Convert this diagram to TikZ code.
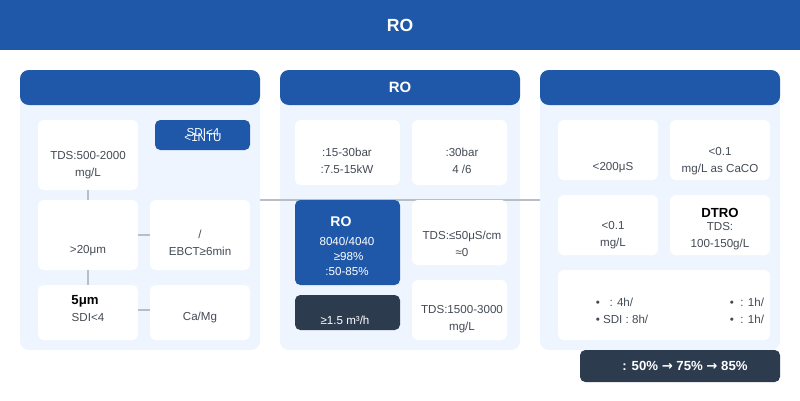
\documentclass[tikz,border=0pt]{standalone}
\usepackage{fontspec}
\setmainfont{Liberation Sans}
\newfontfamily\arrowfont{DejaVu Sans}
\usepackage{tikz}
\definecolor{roblue}{HTML}{1F58A8}
\definecolor{panelbg}{HTML}{EEF5FE}
\definecolor{darkbox}{HTML}{2C3B4E}
\definecolor{txtgray}{HTML}{444B55}
\definecolor{linegray}{HTML}{B8BEC6}
\newcommand{\rarr}{{\arrowfont →}}

\begin{document}
\begin{tikzpicture}[x=0.02cm,y=-0.02cm]
\tikzset{
  panel/.style={fill=panelbg,draw=none,rounded corners=5pt},
  head/.style={fill=roblue,draw=none,rounded corners=5pt},
  card/.style={fill=white,draw=none,rounded corners=3pt},
  bluecard/.style={fill=roblue,draw=none,rounded corners=3pt},
  darkcard/.style={fill=darkbox,draw=none,rounded corners=3pt},
  txt/.style={text=txtgray,align=center,font=\fontsize{6.6}{9.6}\selectfont,inner sep=0pt},
  wtxt/.style={text=white,align=center,font=\fontsize{6.6}{9.6}\selectfont,inner sep=0pt},
  link/.style={draw=linegray,line width=0.6pt}
}
\useasboundingbox (0,0) rectangle (800,400);
% title
\fill[roblue] (0,0) rectangle (800,50);
\node[wtxt,font=\fontsize{10}{12}\selectfont\bfseries] (title) at (400,25) {RO};
% panels
\foreach \x in {20,280,540}{
  \path[panel] (\x,70) rectangle ++(240,280);
  \path[head] (\x,70) rectangle ++(240,35);
}
\node[wtxt,font=\fontsize{8.5}{10}\selectfont\bfseries] (midhead) at (400,87) {RO};
% stage links
\coordinate (la) at (260,200);
\coordinate (lb) at (540,200);
\draw[link] (la) -- (lb);
% left panel
\path[card] (38,120) rectangle (138,190);
\path[bluecard] (155,120) rectangle (250,150);
\path[card] (38,200) rectangle (138,270);
\path[card] (150,200) rectangle (250,270);
\path[card] (38,285) rectangle (138,340);
\path[card] (150,285) rectangle (250,340);
\node[txt] (tds) at (88,165) {TDS:500-2000\\mg/L};
\node[wtxt] (sdia) at (203,133) {SDI<4};
\node[wtxt] (ntu) at (203,138) {<1NTU};
\node[txt] (sand) at (88,251) {>20μm};
\node[txt] (ebct) at (200,243) {/\\EBCT≥6min};
\node[txt,font=\fontsize{7.5}{10}\selectfont\bfseries,text=black] (fine) at (85,301) {5μm};
\node[txt] (sdib) at (88,317) {SDI<4};
\node[txt] (soft) at (200,317) {Ca/Mg};
\draw[link] (88,190) -- (88,200);
\draw[link] (88,270) -- (88,285);
\draw[link] (138,235) -- (150,235);
\draw[link] (138,310) -- (150,310);
% middle panel
\path[card] (295,120) rectangle (400,185);
\path[card] (412,120) rectangle (507,185);
\path[bluecard] (295,200) rectangle (400,285);
\path[card] (412,200) rectangle (507,265);
\path[darkcard] (295,295) rectangle (400,330);
\path[card] (412,280) rectangle (507,340);
\node[txt] (pump) at (347,161) {:15-30bar\\:7.5-15kW};
\node[txt] (vessel) at (462,161) {:30bar\\4 /6};
\node[wtxt,font=\fontsize{8}{10}\selectfont\bfseries] (rohead) at (341,222) {RO};
\node[wtxt,font=\fontsize{6.6}{8.6}\selectfont] (memb) at (347,256) {8040/4040\\ \ ≥98\%\\ :50-85\%};
\node[wtxt] (flow) at (345,320) {≥1.5 m³/h};
\node[txt] (perm) at (462,244) {TDS:≤50μS/cm\\≈0};
\node[txt] (conc) at (462,319) {TDS:1500-3000\\mg/L};
% right panel
\path[card] (558,120) rectangle (658,180);
\path[card] (670,120) rectangle (770,180);
\path[card] (558,195) rectangle (658,255);
\path[card] (670,195) rectangle (770,255);
\path[card] (558,270) rectangle (770,340);
\path[darkcard] (580,350) rectangle (780,382);
\node[txt] (cond) at (613,168) {<200μS};
\node[txt] (hard) at (720,161) {<0.1\\mg/L as CaCO};
\node[txt] (iron) at (613,235) {<0.1\\mg/L};
\node[txt,font=\fontsize{7.5}{10}\selectfont\bfseries,text=black] (dtro) at (720,213) {DTRO};
\node[txt] (dtds) at (720,236) {TDS:\\100-150g/L};
\node[txt,align=left] (checka) at (622,311) {•\ \ \ : 4h/\\• SDI : 8h/};
\node[txt,align=left] (checkb) at (747,311) {•\ \ : 1h/\\•\ \ : 1h/};
\node[wtxt,font=\fontsize{7.5}{10}\selectfont\bfseries] (rate) at (685,366) {: 50\% \rarr{} 75\% \rarr{} 85\%};
\end{tikzpicture}
\end{document}
